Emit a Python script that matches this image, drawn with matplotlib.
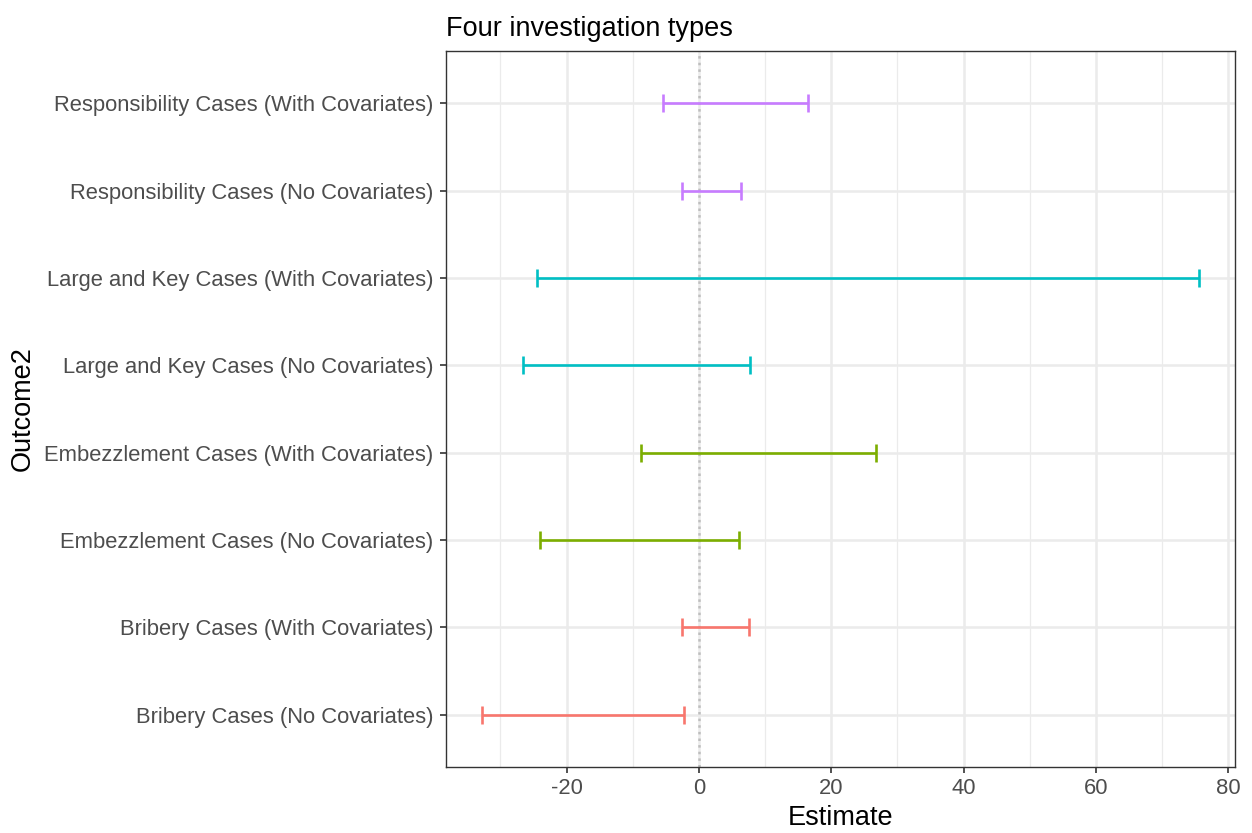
import numpy as np
import matplotlib
matplotlib.use("Agg")
import matplotlib.pyplot as plt
from matplotlib.ticker import MultipleLocator

plt.rcParams['font.family'] = ['Liberation Sans', 'DejaVu Sans']
plt.rcParams['axes.unicode_minus'] = False

labels = [
    "Bribery Cases (No Covariates)",
    "Bribery Cases (With Covariates)",
    "Embezzlement Cases (No Covariates)",
    "Embezzlement Cases (With Covariates)",
    "Large and Key Cases (No Covariates)",
    "Large and Key Cases (With Covariates)",
    "Responsibility Cases (No Covariates)",
    "Responsibility Cases (With Covariates)",
]
lower = [-32.8, -2.5, -24.0, -8.7, -26.6, -24.5, -2.5, -5.4]
upper = [-2.2, 7.6, 6.1, 26.7, 7.8, 75.6, 6.4, 16.5]
groups = ["Bribery", "Bribery", "Embezzlement", "Embezzlement",
          "Large", "Large", "Responsibility", "Responsibility"]
palette = {"Bribery": "#F8766D", "Embezzlement": "#7CAE00",
           "Large": "#00BFC4", "Responsibility": "#C77CFF"}

lower = np.array(lower)
upper = np.array(upper)
mid = (lower + upper) / 2
half = (upper - lower) / 2
ypos = np.arange(1, len(labels) + 1)

fig = plt.figure(figsize=(12.52, 8.33), dpi=100)
ax = fig.add_axes([0.3562, 0.0792, 0.6302, 0.8596])

# ggplot-style scale expansion
span = upper.max() - lower.min()
ax.set_xlim(lower.min() - 0.05 * span, upper.max() + 0.05 * span)
ax.set_ylim(0.4, len(labels) + 0.6)

ax.xaxis.set_major_locator(MultipleLocator(20))
ax.xaxis.set_minor_locator(MultipleLocator(10))
ax.set_yticks(ypos)
ax.set_yticklabels(labels)

ax.grid(which='major', color='#EBEBEB', linewidth=1.8, zorder=0)
ax.grid(which='minor', axis='x', color='#EBEBEB', linewidth=0.9, zorder=0)
ax.set_axisbelow(True)

ax.axvline(0, color='#BEBEBE', linestyle=':', linewidth=1.8, zorder=1)

for i in range(len(labels)):
    ax.errorbar(mid[i], ypos[i], xerr=half[i], fmt='none',
                ecolor=palette[groups[i]], elinewidth=1.9, capsize=6.2,
                capthick=1.9, zorder=3)

for s in ax.spines.values():
    s.set_color('#333333')
    s.set_linewidth(1.0)
ax.tick_params(axis='both', which='major', length=4, width=1.2,
               color='#333333', labelcolor='#4D4D4D', labelsize=15.8)
ax.tick_params(axis='x', which='minor', length=0)
ax.tick_params(axis='x', pad=4)
ax.tick_params(axis='y', pad=5)

ax.set_xlabel("Estimate", fontsize=19.5, color='black', labelpad=4)
ax.set_ylabel("Outcome2", fontsize=19.5, color='black', labelpad=6)
ax.set_title("Four investigation types", fontsize=19.5, loc='left', pad=11)

fig.savefig("out.png", dpi=100)
